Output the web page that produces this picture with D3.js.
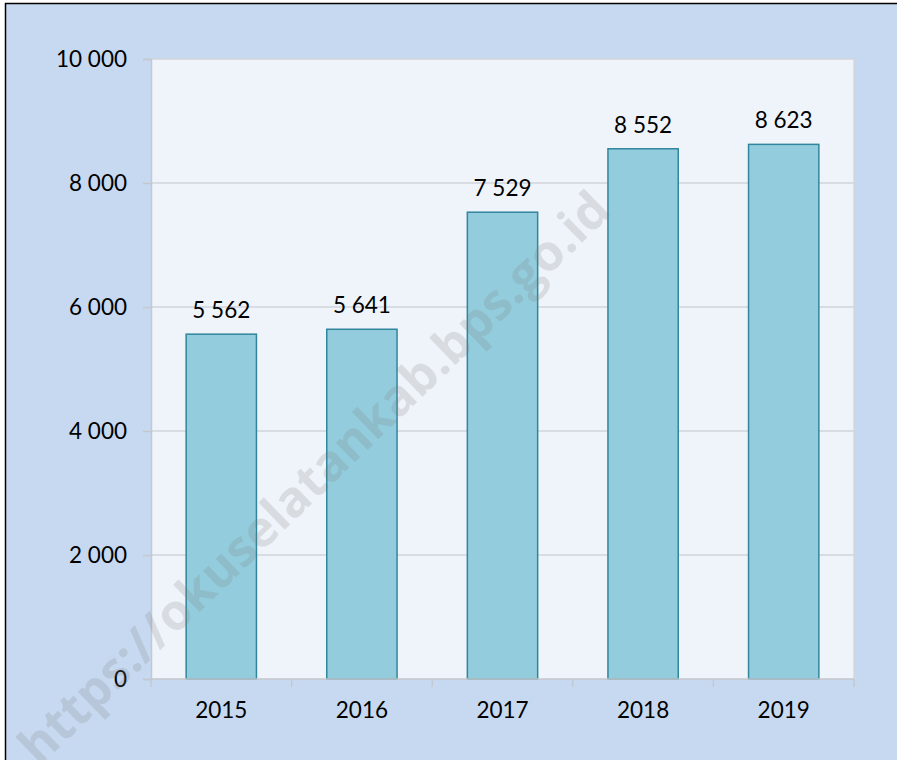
<!DOCTYPE html>
<html>
<head>
<meta charset="utf-8">
<script src="https://cdn.jsdelivr.net/npm/d3@7"></script>
<style>
  body { margin: 0; background: #fff; overflow: hidden; }
  svg { display: block; }
  text { font-family: Lato, "Open Sans", sans-serif; }
</style>
</head>
<body>
<svg id="chart" width="897" height="760"></svg>
<script>
// data
const years = ["2015", "2016", "2017", "2018", "2019"];
const values = [5562, 5641, 7529, 8552, 8623];
const yTicks = [0, 2000, 4000, 6000, 8000, 10000];

const W = 897, H = 760;
const margin = { top: 59, right: 43, bottom: 81, left: 151 };
const width = W - margin.left - margin.right;
const height = H - margin.top - margin.bottom;
const fontSize = "22.5px";

// numbers with a space as thousands separator
const fmt = d3.formatLocale({ decimal: ",", thousands: " ", grouping: [3], currency: ["", ""] }).format(",d");

const svg = d3.select("#chart");

// outer chart area; only the top and left edges are inside the picture
svg.append("rect")
    .attr("x", 5.5).attr("y", 3.5)
    .attr("width", W).attr("height", H)
    .attr("fill", "#c6d9f0");

svg.append("path")
    .attr("d", `M5.5,${H}V3.5H${W}`)
    .attr("fill", "none")
    .attr("stroke", "#000")
    .attr("stroke-width", 1.5);

const g = svg.append("g")
    .attr("transform", `translate(${margin.left},${margin.top})`);

// plot background
g.append("rect")
    .attr("width", width).attr("height", height)
    .attr("fill", "#eff4fb");

const x = d3.scaleBand()
    .domain(years)
    .range([0, width])
    .paddingInner(0.5)
    .paddingOuter(0.25);

const y = d3.scaleLinear()
    .domain([0, 10000])
    .range([height, 0]);

// gridlines
g.selectAll(".grid")
    .data(yTicks.slice(1))
    .enter()
    .append("line")
    .attr("x1", 0).attr("x2", width)
    .attr("y1", d => y(d)).attr("y2", d => y(d))
    .attr("stroke", "#d2d5da")
    .attr("stroke-width", 1.3);

// right border of the plot
g.append("line")
    .attr("x1", width).attr("x2", width)
    .attr("y1", 0).attr("y2", height + 8)
    .attr("stroke", "#d2d5da")
    .attr("stroke-width", 1.3);

// y axis
const yAxis = g.append("g")
    .call(d3.axisLeft(y).tickValues(yTicks).tickFormat(fmt).tickSize(8).tickPadding(16));
yAxis.select(".domain").attr("stroke", "#c4c7cc").attr("stroke-width", 1.5);
yAxis.selectAll(".tick line").attr("stroke", "#c4c7cc").attr("stroke-width", 1.3);
yAxis.selectAll(".tick text")
    .attr("fill", "#000")
    .style("font-size", fontSize)
    .attr("dy", "0.33em");

// bars
g.selectAll(".bar")
    .data(values)
    .enter()
    .append("rect")
    .attr("class", "bar")
    .attr("x", (d, i) => x(years[i]))
    .attr("y", d => y(d))
    .attr("width", x.bandwidth())
    .attr("height", d => height - y(d))
    .attr("fill", "#93cddd")
    .attr("stroke", "#31859c")
    .attr("stroke-width", 1.5);

// value labels
g.selectAll(".val")
    .data(values)
    .enter()
    .append("text")
    .attr("x", (d, i) => x(years[i]) + x.bandwidth() / 2)
    .attr("y", d => y(d) - 16)
    .attr("text-anchor", "middle")
    .style("font-size", fontSize)
    .attr("fill", "#000")
    .text(d => fmt(d));

// x axis line with ticks between categories
g.append("line")
    .attr("x1", 0).attr("x2", width)
    .attr("y1", height).attr("y2", height)
    .attr("stroke", "#c4c7cc")
    .attr("stroke-width", 1.5);

const bounds = years.map(d => x(d) - x.step() * x.paddingInner() / 2).concat([width]);
g.selectAll(".xtick")
    .data(bounds)
    .enter()
    .append("line")
    .attr("x1", d => d).attr("x2", d => d)
    .attr("y1", height).attr("y2", height + 8)
    .attr("stroke", "#c4c7cc")
    .attr("stroke-width", 1.3);

g.selectAll(".xlab")
    .data(years)
    .enter()
    .append("text")
    .attr("x", d => x(d) + x.bandwidth() / 2)
    .attr("y", height + 39)
    .attr("text-anchor", "middle")
    .style("font-size", fontSize)
    .attr("fill", "#000")
    .text(d => d);

// watermark (runs off the bottom edge, as in the reference)
svg.append("text")
    .attr("transform", "translate(326,490) rotate(-44)")
    .attr("text-anchor", "middle")
    .style("font-family", "'Open Sans', sans-serif")
    .style("font-weight", "bold")
    .style("font-size", "50px")
    .attr("fill", "#7f7f7f")
    .attr("fill-opacity", 0.2)
    .text("https://okuselatankab.bps.go.id");
</script>
</body>
</html>
